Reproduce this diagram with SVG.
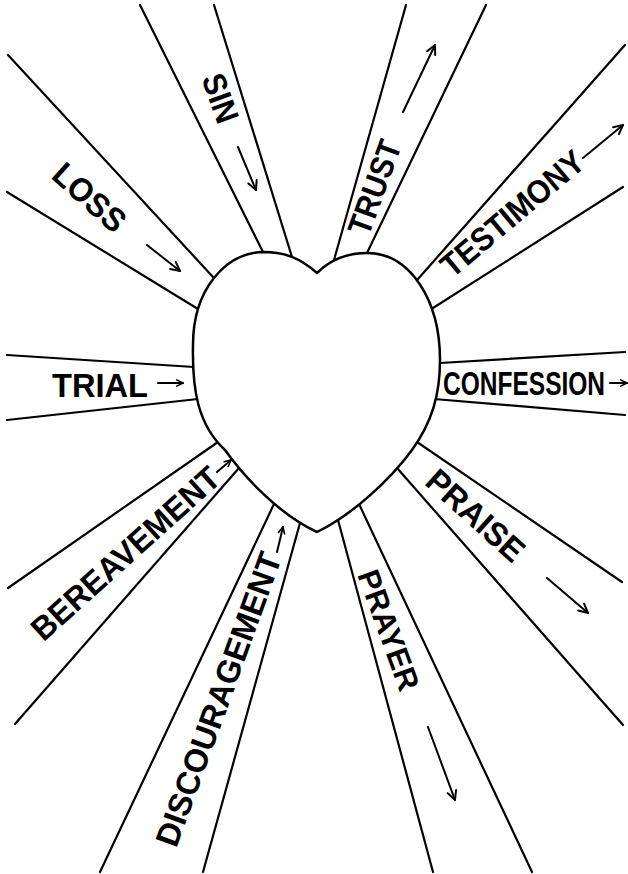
<svg xmlns="http://www.w3.org/2000/svg" width="628" height="874" viewBox="0 0 628 874">
<defs>
<style>
.ray{stroke:#000;stroke-width:2.2;fill:none;stroke-linecap:round}
.arr{stroke:#000;stroke-width:2;fill:none;stroke-linecap:round}
.big{marker-end:url(#ahBig)}
.sm{marker-end:url(#ahSm)}
.lbl{font-family:"Liberation Sans","DejaVu Sans",Arial,sans-serif;font-weight:bold;font-size:33px;fill:#000}
.heart{fill:#fff;stroke:#000;stroke-width:2.5;stroke-linejoin:round}
</style>
<marker id="ahBig" viewBox="0 0 12 12" refX="11" refY="6" markerWidth="12" markerHeight="12" markerUnits="userSpaceOnUse" orient="auto">
<path d="M2,1.5 L11,6 L2,10.5" fill="none" stroke="#000" stroke-width="2" stroke-linecap="round" stroke-linejoin="round"/>
</marker>
<marker id="ahSm" viewBox="0 0 10 10" refX="9" refY="5" markerWidth="9" markerHeight="9" markerUnits="userSpaceOnUse" orient="auto">
<path d="M2,1.5 L9,5 L2,8.5" fill="none" stroke="#000" stroke-width="1.8" stroke-linecap="round" stroke-linejoin="round"/>
</marker>
</defs>
<rect width="628" height="874" fill="#fff"/>

<g id="rays">
<g id="loss">
<line class="ray" x1="8" y1="55" x2="213" y2="277"/>
<line class="ray" x1="7" y1="192" x2="198" y2="309"/>
<text class="lbl" transform="translate(90,197) rotate(42)" x="0" y="12" text-anchor="middle" textLength="86" lengthAdjust="spacingAndGlyphs">LOSS</text>
<line class="arr big" x1="147" y1="245" x2="180" y2="271"/>
</g>
<g id="sin">
<line class="ray" x1="140" y1="5" x2="263" y2="252"/>
<line class="ray" x1="214" y1="5" x2="292" y2="257"/>
<text class="lbl" transform="translate(221,98) rotate(70)" x="0" y="12" text-anchor="middle" textLength="50" lengthAdjust="spacingAndGlyphs">SIN</text>
<line class="arr big" x1="238" y1="147" x2="256" y2="190"/>
</g>
<g id="trust">
<line class="ray" x1="406" y1="5" x2="334" y2="260"/>
<line class="ray" x1="486" y1="5" x2="367" y2="253"/>
<text class="lbl" transform="translate(374,187) rotate(-70)" x="0" y="12" text-anchor="middle" textLength="98" lengthAdjust="spacingAndGlyphs">TRUST</text>
<line class="arr big" x1="403" y1="112" x2="435" y2="45"/>
</g>
<g id="testimony">
<line class="ray" x1="625" y1="45" x2="418" y2="279"/>
<line class="ray" x1="623" y1="187" x2="433" y2="308"/>
<text class="lbl" transform="translate(512,213) rotate(-40)" x="0" y="12" text-anchor="middle" textLength="176" lengthAdjust="spacingAndGlyphs">TESTIMONY</text>
<line class="arr big" x1="583" y1="158" x2="623" y2="125"/>
</g>
<g id="trial">
<line class="ray" x1="7" y1="355" x2="194" y2="367"/>
<line class="ray" x1="7" y1="420" x2="198" y2="399"/>
<text class="lbl" x="52" y="397" textLength="96" lengthAdjust="spacingAndGlyphs">TRIAL</text>
<line class="arr sm" x1="158" y1="383" x2="183" y2="383"/>
</g>
<g id="confession">
<line class="ray" x1="625" y1="352" x2="440" y2="363"/>
<line class="ray" x1="625" y1="415" x2="434" y2="399"/>
<text class="lbl" transform="translate(443,395) scale(0.743,1)" x="0" y="0">CONFESSION</text>
<line class="arr sm" x1="610" y1="383" x2="627" y2="383"/>
</g>
<g id="praise">
<line class="ray" x1="622" y1="582" x2="417" y2="442"/>
<line class="ray" x1="623" y1="725" x2="397" y2="468"/>
<text class="lbl" transform="translate(476,515) rotate(42)" x="0" y="12" text-anchor="middle" textLength="120" lengthAdjust="spacingAndGlyphs">PRAISE</text>
<line class="arr big" x1="547" y1="578" x2="588" y2="613"/>
</g>
<g id="prayer">
<line class="ray" x1="338" y1="520" x2="433" y2="872"/>
<line class="ray" x1="359" y1="504" x2="532" y2="872"/>
<text class="lbl" transform="translate(389,630) rotate(70)" x="0" y="11" text-anchor="middle" textLength="126" lengthAdjust="spacingAndGlyphs" style="font-size:31px">PRAYER</text>
<line class="arr big" x1="428" y1="727" x2="455" y2="800"/>
</g>
<g id="discouragement">
<line class="ray" x1="274" y1="504" x2="100" y2="872"/>
<line class="ray" x1="300" y1="523" x2="203" y2="872"/>
<text class="lbl" transform="translate(218,699) rotate(-70)" x="0" y="12" text-anchor="middle" textLength="310" lengthAdjust="spacingAndGlyphs">DISCOURAGEMENT</text>
<line class="arr sm" x1="277" y1="552" x2="283" y2="527"/>
</g>
<g id="bereavement">
<line class="ray" x1="218" y1="442" x2="8" y2="588"/>
<line class="ray" x1="239" y1="468" x2="15" y2="724"/>
<text class="lbl" transform="translate(125,553) rotate(-42)" x="0" y="12" text-anchor="middle" textLength="241" lengthAdjust="spacingAndGlyphs">BEREAVEMENT</text>
<line class="arr sm" x1="217" y1="472" x2="231" y2="460"/>
</g>
</g>

<g id="heart">
<path class="heart" d="M317,273 C300,258 285,252 263,252 C225,253 193,290 193,345 C192,390 198,425 225,450 C245,478 280,515 317,532 C352,515 390,480 412,450 C432,422 440,395 440,360 C440,300 410,253 367,253 C345,253 330,260 317,273 Z"/>
</g>
</svg>
